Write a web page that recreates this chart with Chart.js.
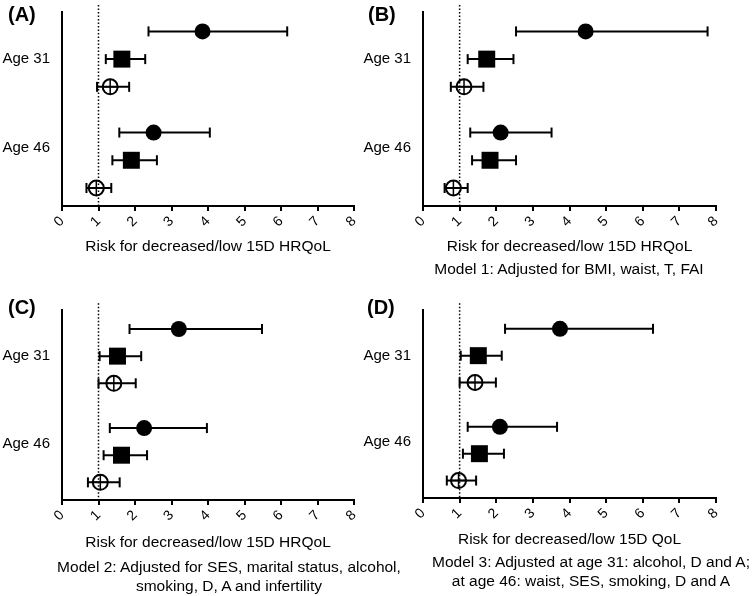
<!DOCTYPE html>
<html>
<head>
<meta charset="utf-8">
<script src="https://cdn.jsdelivr.net/npm/chart.js@4"></script>
<style>
  body { margin: 0; background: #fff; }
  #wrap { position: relative; width: 752px; height: 596px; font-family: 'Liberation Sans', Arial, sans-serif; color: #000; }
  canvas { position: absolute; }
  .tag { position: absolute; font-weight: bold; font-size: 20px; line-height: 20px; }
  .note { position: absolute; font-size: 15.5px; line-height: 19px; text-align: center; white-space: nowrap; transform: translateX(-50%); }
</style>
</head>
<body>
<div id="wrap"></div>
<script>
// ---- data ----
const ageGroups = ['Age 31', 'Age 46'];
// rows in every panel: age 31 (filled circle, filled square, open circle), then age 46 (same order)
const estA  = [3.85, 1.64, 1.32, 2.51, 1.90, 0.94];
const lowA  = [2.37, 1.20, 0.96, 1.57, 1.38, 0.67];
const highA = [6.17, 2.28, 1.84, 4.05, 2.60, 1.35];

const estB  = [4.44, 1.74, 1.12, 2.12, 1.83, 0.83];
const lowB  = [2.54, 1.22, 0.76, 1.29, 1.34, 0.59];
const highB = [7.77, 2.47, 1.65, 3.51, 2.54, 1.22];

const estC  = [3.20, 1.52, 1.42, 2.25, 1.63, 1.05];
const lowC  = [1.85, 1.03, 1.00, 1.31, 1.14, 0.71];
const highC = [5.48, 2.17, 2.02, 3.97, 2.33, 1.58];

const estD  = [3.74, 1.51, 1.42, 2.10, 1.54, 0.97];
const lowD  = [2.24, 1.03, 1.00, 1.22, 1.09, 0.65];
const highD = [6.28, 2.15, 1.99, 3.66, 2.21, 1.45];

const refValue = 1;
const xMin = 0, xMax = 8;

const panelTags = ['(A)', '(B)', '(C)', '(D)'];
const axisTitles = [
  'Risk for decreased/low 15D HRQoL',
  'Risk for decreased/low 15D HRQoL',
  'Risk for decreased/low 15D HRQoL',
  'Risk for decreased/low 15D QoL'
];
const modelNotes = [
  [],
  ['Model 1: Adjusted for BMI, waist, T, FAI'],
  ['Model 2: Adjusted for SES, marital status, alcohol,', 'smoking, D, A and infertility'],
  ['Model 3: Adjusted at age 31: alcohol, D and A;', 'at age 46: waist, SES, smoking, D and A']
];

// ---- layout ----
const rowY = [0.7, 1.7, 2.7, 4.35, 5.35, 6.35];
const ageTickY = [1.7, 4.92];

const panels = [
  { est: estA, low: lowA, high: highA, left: 0,   top: 0,   w: 376, h: 298, yw: 62, padTop: 11, padRight: 22, xh: 92, titlePad: 42, tagX: 8,   tagY: 4 },
  { est: estB, low: lowB, high: highB, left: 340, top: 0,   w: 412, h: 298, yw: 83, padTop: 11, padRight: 36, xh: 92, titlePad: 42, tagX: 368, tagY: 4,   noteX: 569, noteY: 258.5 },
  { est: estC, low: lowC, high: highC, left: 0,   top: 298, w: 376, h: 298, yw: 62, padTop: 8,  padRight: 22, xh: 96, titlePad: 44, tagX: 8,   tagY: 297, noteX: 229, noteY: 556.5 },
  { est: estD, low: lowD, high: highD, left: 340, top: 298, w: 412, h: 298, yw: 83, padTop: 8,  padRight: 36, xh: 98, titlePad: 47, tagX: 367, tagY: 297, noteX: 591, noteY: 551.5 }
];

Chart.defaults.font.family = "'Liberation Sans', Arial, sans-serif";
Chart.defaults.color = '#000';

const wrap = document.getElementById('wrap');

function pointsFor(p, kind) {
  // kind 0 filled circle, 1 square, 2 open circle
  return [kind, kind + 3].map(i => ({ x: p.est[i], y: rowY[i] }));
}

panels.forEach((p, k) => {
  const cv = document.createElement('canvas');
  cv.width = p.w; cv.height = p.h;
  cv.style.left = p.left + 'px'; cv.style.top = p.top + 'px';
  wrap.appendChild(cv);

  const datasets = [];
  // reference line at 1
  datasets.push({
    type: 'line', data: [{ x: refValue, y: -0.25 }, { x: refValue, y: 7 }],
    borderColor: '#000', borderWidth: 1.5, borderDash: [1.5, 2], pointRadius: 0, clip: false, order: 4
  });
  // confidence intervals
  p.est.forEach((_, i) => {
    datasets.push({
      type: 'line', data: [{ x: p.low[i], y: rowY[i] }, { x: p.high[i], y: rowY[i] }],
      borderColor: '#000', borderWidth: 2, showLine: true,
      pointStyle: 'line', rotation: 90, pointRadius: 5, pointBorderWidth: 2, pointBorderColor: '#000', order: 3
    });
  });
  datasets.push({
    data: pointsFor(p, 0), pointStyle: 'circle', pointRadius: 8,
    pointBackgroundColor: '#000', pointBorderWidth: 0, order: 1
  });
  datasets.push({
    data: pointsFor(p, 1), pointStyle: 'rect', pointRadius: 12,
    pointBackgroundColor: '#000', pointBorderWidth: 0, order: 1
  });
  datasets.push({
    data: pointsFor(p, 2), pointStyle: 'circle', pointRadius: 7.5,
    pointBackgroundColor: 'rgba(255,255,255,0)', pointBorderColor: '#000', pointBorderWidth: 2, order: 1
  });
  datasets.push({
    data: pointsFor(p, 2), pointStyle: 'cross', pointRadius: 8,
    pointBorderColor: '#000', pointBorderWidth: 1.5, order: 0
  });

  new Chart(cv, {
    type: 'scatter',
    data: { datasets },
    options: {
      responsive: false,
      animation: false,
      events: [],
      layout: { padding: { left: 0, top: p.padTop, right: p.padRight, bottom: 0 } },
      plugins: { legend: { display: false }, tooltip: { enabled: false } },
      scales: {
        x: {
          type: 'linear', min: xMin, max: xMax,
          afterFit: s => { s.height = p.xh; },
          ticks: { stepSize: 1, autoSkip: false, maxRotation: 45, minRotation: 45, padding: 2, font: { size: 14 }, color: '#000' },
          grid: { display: true, drawOnChartArea: false, drawTicks: true, tickLength: 5, color: '#000', lineWidth: 2 },
          border: { display: true, color: '#000', width: 2 },
          title: { display: true, text: axisTitles[k], font: { size: 15.5 }, color: '#000', padding: { top: 0, bottom: p.titlePad } }
        },
        y: {
          type: 'linear', min: 0, max: 7, reverse: true,
          afterFit: s => { s.width = p.yw; },
          afterBuildTicks: s => { s.ticks = ageTickY.map(v => ({ value: v })); },
          ticks: { callback: (v, i) => ageGroups[i], padding: 0, font: { size: 15, lineHeight: 1 }, color: '#000' },
          // invisible tick marks just make the gap between labels and axis
          grid: { display: true, drawOnChartArea: false, drawTicks: true, tickLength: 12, tickColor: 'rgba(0,0,0,0)' },
          border: { display: true, color: '#000', width: 2 }
        }
      }
    }
  });

  const tag = document.createElement('div');
  tag.className = 'tag';
  tag.textContent = panelTags[k];
  tag.style.left = p.tagX + 'px'; tag.style.top = p.tagY + 'px';
  wrap.appendChild(tag);

  if (modelNotes[k].length) {
    const note = document.createElement('div');
    note.className = 'note';
    note.innerHTML = modelNotes[k].join('<br>');
    note.style.left = p.noteX + 'px'; note.style.top = p.noteY + 'px';
    wrap.appendChild(note);
  }
});
</script>
</body>
</html>
